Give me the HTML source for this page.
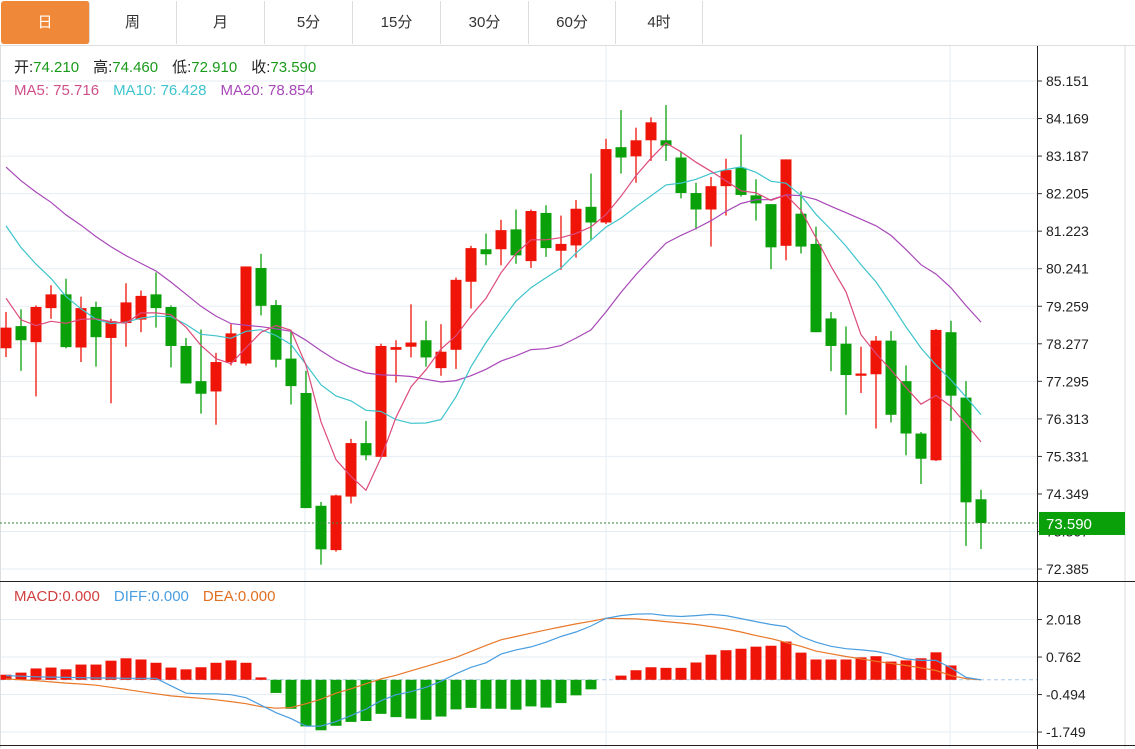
<!DOCTYPE html>
<html><head><meta charset="utf-8"><style>
body{margin:0;width:1135px;height:749px;background:#fff;overflow:hidden;font-family:"Liberation Sans","Noto Sans CJK SC",sans-serif}
.tabs{position:absolute;left:0;top:0;height:45px;width:1135px;border-bottom:1px solid #ddd}
.tab{position:absolute;top:1px;height:43px;line-height:43px;text-align:center;font-size:15px;color:#333;border-right:1px solid #ddd}
.tab.on{background:#f0883a;color:#fff;border-radius:3px}
</style></head><body>
<div class="tabs">
<div class="tab on" style="left:1px;width:88px">日</div>
<div class="tab" style="left:89px;width:87px">周</div>
<div class="tab" style="left:177px;width:87px">月</div>
<div class="tab" style="left:265px;width:87px">5分</div>
<div class="tab" style="left:353px;width:87px">15分</div>
<div class="tab" style="left:441px;width:87px">30分</div>
<div class="tab" style="left:529px;width:86px">60分</div>
<div class="tab" style="left:616px;width:86px">4时</div>
</div>
<svg id="c" width="1135" height="749" style="position:absolute;left:0;top:0"></svg>
<script>
const opens=[78.16,78.74,78.32,79.21,79.57,78.18,79.24,78.43,78.82,78.91,79.57,79.24,78.22,77.30,77.03,77.80,77.76,80.26,79.29,77.89,76.99,74.04,72.88,74.28,75.68,75.32,78.12,78.20,78.37,77.64,78.12,79.90,80.75,80.75,81.27,80.44,81.70,80.71,80.85,81.86,81.45,83.42,83.18,83.60,83.60,83.15,82.22,81.79,82.40,82.88,82.16,81.93,80.84,81.68,80.89,78.94,78.28,77.44,77.48,78.36,77.30,75.93,75.23,78.58,76.87,74.21];
const highs=[79.11,79.18,79.28,79.81,79.98,79.51,79.38,78.93,79.86,79.67,80.14,79.28,78.43,78.65,78.04,78.79,80.30,80.63,79.42,78.61,77.57,74.14,74.33,75.79,76.26,78.28,78.37,79.31,78.88,78.79,80.01,80.84,81.16,81.52,81.79,81.79,81.90,81.63,82.04,82.73,83.64,84.39,83.93,84.20,84.52,83.30,82.49,82.64,83.12,83.75,82.58,81.93,83.10,82.26,81.34,79.11,78.73,78.20,78.48,78.61,77.71,75.97,78.66,78.88,77.30,74.46];
const lows=[77.93,77.57,76.90,78.93,78.16,77.80,77.68,76.72,78.20,78.58,78.70,77.66,77.24,76.45,76.16,77.71,77.71,79.02,77.66,76.69,73.98,72.50,72.84,74.10,75.23,75.30,77.26,77.92,77.68,77.44,77.62,79.20,80.33,80.33,80.37,80.26,80.55,80.21,80.53,81.00,81.41,82.73,82.49,83.06,83.06,82.08,81.27,80.82,81.63,82.13,81.50,80.23,80.46,80.64,78.58,77.56,76.42,76.99,76.06,76.22,75.36,74.61,75.21,76.26,72.99,72.91];
const closes=[78.70,78.37,79.24,79.57,78.19,79.21,78.45,78.87,79.36,79.53,79.21,78.22,77.24,76.97,77.80,78.55,80.30,79.27,77.86,77.17,73.98,72.90,74.31,75.68,75.36,78.22,78.19,78.31,77.92,78.07,79.95,80.78,80.62,81.25,80.59,81.75,80.78,80.89,81.81,81.45,83.37,83.15,83.60,84.07,83.46,82.22,81.79,82.40,82.82,82.17,81.95,80.80,83.10,80.82,78.58,78.22,77.46,77.50,78.36,76.42,75.93,75.27,78.64,76.92,74.13,73.59];
const priorCloses=[85.5,85.2,84.9,84.8,84.6,84.4,84.2,84.0,83.6,83.2,84.0,83.6,83.3,82.9,82.45,81.2,80.0,79.0,78.45];
const priceTicks=["85.151","84.169","83.187","82.205","81.223","80.241","79.259","78.277","77.295","76.313","75.331","74.349","73.367","72.385"];
const macdBars=[0.17,0.24,0.38,0.41,0.35,0.51,0.51,0.64,0.72,0.68,0.57,0.41,0.35,0.42,0.57,0.65,0.57,0.08,-0.44,-0.97,-1.56,-1.69,-1.54,-1.41,-1.38,-1.14,-1.25,-1.30,-1.34,-1.23,-0.99,-0.94,-0.97,-0.97,-1.0,-0.89,-0.93,-0.78,-0.52,-0.32,0,0.14,0.32,0.42,0.40,0.40,0.58,0.84,0.99,1.04,1.11,1.14,1.28,0.91,0.68,0.68,0.68,0.75,0.79,0.61,0.65,0.72,0.92,0.48,0,0];
const diffVals=[0.14,0.12,0.10,0.09,0.08,0.07,0.06,0.06,0.05,0.05,0.05,-0.2,-0.45,-0.47,-0.47,-0.5,-0.6,-0.85,-1.1,-1.3,-1.55,-1.55,-1.4,-1.2,-0.98,-0.7,-0.5,-0.4,-0.25,-0.05,0.2,0.42,0.57,0.86,1.0,1.1,1.26,1.45,1.6,1.8,2.06,2.15,2.2,2.21,2.15,2.12,2.15,2.19,2.15,2.05,1.95,1.85,1.78,1.45,1.26,1.12,1.04,1.0,0.95,0.85,0.7,0.65,0.65,0.4,0.08,0];
const deaVals=[0.03,0.0,-0.03,-0.07,-0.11,-0.14,-0.18,-0.25,-0.32,-0.4,-0.47,-0.54,-0.58,-0.62,-0.67,-0.73,-0.8,-0.9,-0.95,-0.93,-0.8,-0.65,-0.45,-0.3,-0.13,0.03,0.15,0.3,0.45,0.6,0.75,0.95,1.15,1.34,1.45,1.56,1.67,1.77,1.87,1.96,2.06,2.05,2.04,2.0,1.95,1.9,1.85,1.78,1.7,1.6,1.48,1.38,1.25,1.12,0.96,0.87,0.78,0.7,0.62,0.55,0.48,0.4,0.31,0.14,0.04,0];
const macdTicks=[2.018,0.762,-0.494,-1.749];

const svg=document.getElementById('c');const NS='http://www.w3.org/2000/svg';
function el(t,a,p){const e=document.createElementNS(NS,t);for(const k in a)e.setAttribute(k,a[k]);(p||svg).appendChild(e);return e;}
const X=i=>6+15*i;
const Y=p=>81+(85.151-p)*38.23;
const MY=v=>679.8-v*29.87;
const RED='#ee1508',GRN='#0aa00a';
// grid
const grid=el('g',{});


priceTicks.forEach(t=>{const y=Y(+t);el('line',{x1:0,x2:1037,y1:y,y2:y,stroke:'#e6edf2'},grid);});
macdTicks.forEach(t=>{const y=MY(t);el('line',{x1:0,x2:1037,y1:y,y2:y,stroke:'#e6edf2'},grid);});
[305,606,950].forEach(x=>el('line',{x1:x,x2:x,y1:46,y2:748,stroke:'#e6edf2'},grid));
el('line',{x1:0.5,x2:0.5,y1:46,y2:748,stroke:'#ddd'});
el('line',{x1:1125,x2:1125,y1:46,y2:748,stroke:'#ddd'});
el('line',{x1:0,x2:1135,y1:581.5,y2:581.5,stroke:'#222'});
el('line',{x1:0,x2:1135,y1:745.5,y2:745.5,stroke:'#222'});
el('line',{x1:1037.5,x2:1037.5,y1:46,y2:749,stroke:'#222'});
// price axis
priceTicks.forEach(t=>{const y=Y(+t);el('line',{x1:1037,x2:1042,y1:y,y2:y,stroke:'#333'});
const tx=el('text',{x:1046,y:y+5,'font-size':14,fill:'#222'});tx.textContent=t;

});
macdTicks.forEach(t=>{const y=MY(t);el('line',{x1:1037,x2:1042,y1:y,y2:y,stroke:'#333'});
const tx=el('text',{x:1046,y:y+5,'font-size':14,fill:'#222'});tx.textContent=t.toFixed(3);

});
// candles
opens.forEach((o,i)=>{const c=closes[i],up=c>=o,col=up?RED:GRN,x=X(i);
const g=el('g',{});


el('line',{x1:x,x2:x,y1:Y(highs[i]),y2:Y(lows[i]),stroke:col,'stroke-width':1.3},g);
const t=Y(Math.max(o,c)),b=Y(Math.min(o,c));
el('rect',{x:x-5.5,y:t,width:11,height:Math.max(b-t,1.5),fill:col},g);});
// MAs
const all=priorCloses.concat(closes),P=priorCloses.length;
function ma(n,col,name){let pts=[];for(let i=0;i<closes.length;i++){let s=0;for(let k=0;k<n;k++)s+=all[P+i-k];pts.push(X(i)+','+Y(s/n).toFixed(1));}
const l=el('polyline',{points:pts.join(' '),fill:'none',stroke:col,'stroke-width':1.2});

}
ma(20,'#a848b8','ma20-line');ma(10,'#3ec4cc','ma10-line');ma(5,'#dc4a7c','ma5-line');
// current price
const cy=Y(closes[closes.length-1]);
el('line',{x1:0,x2:1037,y1:cy,y2:cy,stroke:'#3a8a3a','stroke-dasharray':'2,2'});
const box=el('rect',{x:1039,y:cy-11,width:86,height:23,fill:'#0aa00a'});


const bt=el('text',{x:1046,y:cy+6,'font-size':15,fill:'#fff'});bt.textContent=closes[closes.length-1].toFixed(3);


// MACD
el('line',{x1:0,x2:1037,y1:MY(0),y2:MY(0),stroke:'#a8c8e8','stroke-dasharray':'4,3'});
macdBars.forEach((v,i)=>{if(v===0)return;const y0=MY(0),y1=MY(v);
const r=el('rect',{x:X(i)-5.5,y:Math.min(y0,y1),width:11,height:Math.abs(y1-y0),fill:v>0?RED:GRN});

});
function line(arr,col,name){const l=el('polyline',{points:arr.map((v,i)=>X(i)+','+MY(v).toFixed(1)).join(' '),fill:'none',stroke:col,'stroke-width':1.2});

}
line(deaVals,'#e8782a','dea-line');line(diffVals,'#4a9ee0','diff-line');
// legends
function leg(x,y,parts,name){const t=el('text',{x:x,y:y,'font-size':15});
parts.forEach(p=>{const s=el('tspan',{fill:p[1]},t);if(p[2])s.setAttribute('dx',p[2]);s.textContent=p[0];});}
leg(14,72,[['开:','#222'],['74.210','#1a9a1a'],['高:','#222',14],['74.460','#1a9a1a'],['低:','#222',14],['72.910','#1a9a1a'],['收:','#222',14],['73.590','#1a9a1a']],'ohlc-legend');
leg(14,95,[['MA5: 75.716','#d0508a'],['MA10: 76.428','#3ec4cc',14],['MA20: 78.854','#a848b8',14]],'ma-legend');
leg(14,601,[['MACD:0.000','#d04040'],['DIFF:0.000','#4a9ee0',14],['DEA:0.000','#e07020',14]],'macd-legend');
</script>
</body></html>
